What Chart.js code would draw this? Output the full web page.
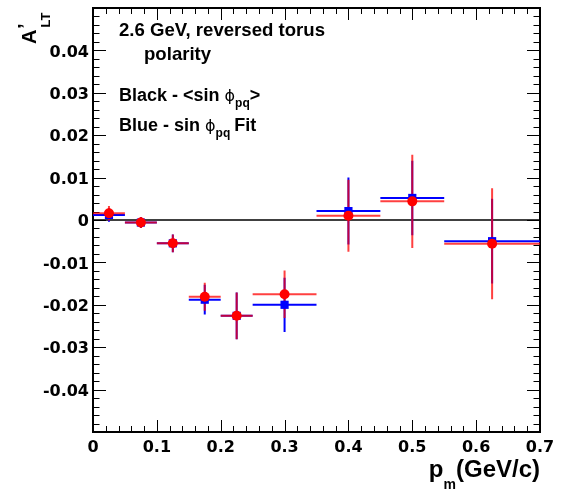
<!DOCTYPE html>
<html>
<head>
<meta charset="utf-8">
<script src="https://cdn.jsdelivr.net/npm/chart.js@4.4.1/dist/chart.umd.min.js"></script>
<style>
  html, body { margin: 0; padding: 0; background: #fff; }
  canvas { display: block; }
</style>
</head>
<body>
<canvas id="altChart" width="569" height="491"></canvas>
<script>
// p_m bins (GeV/c)
const pmLow    = [0.00, 0.05, 0.10, 0.15, 0.20, 0.25, 0.35, 0.45, 0.55];
const pmHigh   = [0.05, 0.10, 0.15, 0.20, 0.25, 0.35, 0.45, 0.55, 0.70];
const pmCenter = [0.025, 0.075, 0.125, 0.175, 0.225, 0.30, 0.40, 0.50, 0.625];

// <sin phi_pq> moments (red) and sin phi_pq fit (blue)
const sinAvg    = [0.0016, -0.0006, -0.0055, -0.0181, -0.0226, -0.0175, 0.0010, 0.0044, -0.0056];
const sinAvgErr = [0.0017, 0.0013, 0.0021, 0.0033, 0.0055, 0.0056, 0.0085, 0.0110, 0.0131];
const sinFit    = [0.0012, -0.0006, -0.0055, -0.0188, -0.0226, -0.0200, 0.0021, 0.0052, -0.0050];
const sinFitErr = [0.0016, 0.0013, 0.0021, 0.0035, 0.0055, 0.0064, 0.0079, 0.0088, 0.0100];

const X_MIN = 0, X_MAX = 0.7, Y_MIN = -0.05, Y_MAX = 0.05;
const FONT = '"Liberation Sans", Arial, sans-serif';

function points(ys) {
    return pmCenter.map((x, i) => ({ x: x, y: ys[i] }));
}

function fmtTick(v) {
    if (Math.abs(v) < 1e-9) return '0';
    return String(+v.toFixed(2));
}

// frame, zero line and inward ticks on all four sides
const framePlugin = {
    id: 'frame',
    beforeDatasetsDraw(chart) {
        const { ctx, chartArea: a, scales: { x, y } } = chart;
        ctx.save();
        ctx.strokeStyle = '#000';
        ctx.lineWidth = 1.3;
        const y0 = y.getPixelForValue(0);
        ctx.beginPath();
        ctx.moveTo(x.getPixelForValue(X_MIN), y0);
        ctx.lineTo(x.getPixelForValue(X_MAX), y0);
        ctx.stroke();

        ctx.lineWidth = 1;
        ctx.beginPath();
        for (let k = 0; k <= 35; k++) {
            const px = Math.round(x.getPixelForValue(k * 0.02)) + 0.5;
            const len = (k % 5 === 0) ? 12 : 6;
            ctx.moveTo(px, a.bottom); ctx.lineTo(px, a.bottom - len);
            ctx.moveTo(px, a.top); ctx.lineTo(px, a.top + len);
        }
        for (let k = 0; k <= 50; k++) {
            const py = Math.round(y.getPixelForValue(Y_MIN + k * 0.002)) + 0.5;
            const len = (k % 5 === 0) ? 13 : 6.5;
            ctx.moveTo(a.left, py); ctx.lineTo(a.left + len, py);
            ctx.moveTo(a.right, py); ctx.lineTo(a.right - len, py);
        }
        ctx.stroke();

        ctx.lineWidth = 2;
        ctx.strokeRect(a.left, a.top, a.right - a.left, a.bottom - a.top);
        ctx.restore();
    }
};

// bin-width and statistical error bars
const errorBarPlugin = {
    id: 'errorBars',
    beforeDatasetsDraw(chart) {
        const { ctx, scales: { x, y } } = chart;
        const order = chart.data.datasets.map((d, i) => i).reverse();
        order.forEach(i => {
            const ds = chart.data.datasets[i];
            ctx.save();
            ctx.strokeStyle = ds.errColor;
            ctx.globalAlpha = ds.errAlpha;
            ctx.lineWidth = 2;
            ctx.beginPath();
            ds.data.forEach((p, j) => {
                const py = y.getPixelForValue(p.y);
                const px = x.getPixelForValue(p.x);
                ctx.moveTo(x.getPixelForValue(pmLow[j]), py);
                ctx.lineTo(x.getPixelForValue(pmHigh[j]), py);
                ctx.moveTo(px, y.getPixelForValue(p.y + ds.errors[j]));
                ctx.lineTo(px, y.getPixelForValue(p.y - ds.errors[j]));
            });
            ctx.stroke();
            ctx.restore();
        });
    }
};

// draw a run of text pieces (normal / subscript) left to right
function drawPieces(ctx, pieces, x, y) {
    let cx = x;
    pieces.forEach(p => {
        ctx.font = p.font;
        ctx.fillText(p.t, cx, y + (p.dy || 0));
        cx += ctx.measureText(p.t).width + (p.gap || 0);
    });
}

const textPlugin = {
    id: 'labels',
    afterDraw(chart) {
        const ctx = chart.ctx;
        ctx.save();
        ctx.fillStyle = '#000';
        ctx.textBaseline = 'alphabetic';
        ctx.textAlign = 'left';
        const head = 'bold 18.6px ' + FONT;
        const big = 'bold 18px ' + FONT;
        const sub = 'bold 12px ' + FONT;
        const phi = '16px "DejaVu Sans", sans-serif';

        drawPieces(ctx, [{ t: '2.6 GeV, reversed torus', font: head }], 119, 36);
        drawPieces(ctx, [{ t: 'polarity', font: head }], 144, 60);
        drawPieces(ctx, [
            { t: 'Black - <sin ', font: big },
            { t: '\u03D5', font: phi },
            { t: 'pq', font: sub, dy: 6 },
            { t: '>', font: big }
        ], 119, 101);
        drawPieces(ctx, [
            { t: 'Blue - sin ', font: big },
            { t: '\u03D5', font: phi },
            { t: 'pq', font: sub, dy: 6, gap: 4 },
            { t: 'Fit', font: big }
        ], 119, 131);

        // x-axis title, right-aligned with the frame
        const xa = chart.chartArea;
        ctx.font = 'bold 24px ' + FONT;
        const w1 = ctx.measureText('(GeV/c)').width;
        const w3 = ctx.measureText('p').width;
        ctx.font = 'bold 14px ' + FONT;
        const w2 = ctx.measureText('m').width;
        drawPieces(ctx, [
            { t: 'p', font: 'bold 24px ' + FONT },
            { t: 'm', font: 'bold 14px ' + FONT, dy: 12 },
            { t: '(GeV/c)', font: 'bold 24px ' + FONT }
        ], xa.right - w1 - w2 - w3, 477);

        // y-axis title, rotated, top end at the frame
        ctx.translate(36, 44);
        ctx.rotate(-Math.PI / 2);
        ctx.font = 'bold 20px ' + FONT;
        ctx.fillText('A', 0, 0);
        const wa = ctx.measureText('A').width;
        ctx.fillText('\u2019', wa + 0.5, -4);
        ctx.font = 'bold 13px ' + FONT;
        ctx.fillText('LT', wa + 2, 14);
        ctx.restore();
    }
};

const tickFont = { family: '"DejaVu Sans", sans-serif', size: 16, weight: 'bold' };

new Chart(document.getElementById('altChart'), {
    type: 'scatter',
    data: {
        datasets: [
            {
                label: '<sin phi_pq>',
                data: points(sinAvg),
                errors: sinAvgErr,
                errColor: '#ff0000',
                errAlpha: 0.75,
                order: 0,
                pointStyle: 'circle',
                pointRadius: 5,
                backgroundColor: '#ff0000',
                borderWidth: 0
            },
            {
                label: 'sin phi_pq fit',
                data: points(sinFit),
                errors: sinFitErr,
                errColor: '#0000ff',
                errAlpha: 1,
                order: 1,
                pointStyle: 'rect',
                pointRadius: 5.8,
                backgroundColor: '#0000ff',
                borderWidth: 0
            }
        ]
    },
    options: {
        responsive: false,
        animation: false,
        layout: { padding: { top: 8, right: 29, left: 0, bottom: 0 } },
        plugins: { legend: { display: false }, tooltip: { enabled: false } },
        scales: {
            x: {
                type: 'linear',
                min: X_MIN,
                max: X_MAX,
                grid: { display: false, drawTicks: false },
                border: { display: false },
                ticks: { stepSize: 0.1, font: tickFont, color: '#000', padding: 6, maxRotation: 0, callback: fmtTick },
                afterFit(scale) {
                    scale.height = 59;
                    scale.paddingLeft = 0;
                    scale.paddingRight = 0;
                }
            },
            y: {
                min: Y_MIN,
                max: Y_MAX,
                grid: { display: false, drawTicks: false },
                border: { display: false },
                ticks: {
                    stepSize: 0.01, font: tickFont, color: '#000', padding: 4, labelOffset: 2,
                    callback: v => (Math.abs(v) > 0.045 ? '' : fmtTick(v))
                },
                afterFit(scale) {
                    scale.width = 93;
                    scale.paddingTop = 0;
                    scale.paddingBottom = 0;
                }
            }
        }
    },
    plugins: [framePlugin, errorBarPlugin, textPlugin]
});
</script>
</body>
</html>
